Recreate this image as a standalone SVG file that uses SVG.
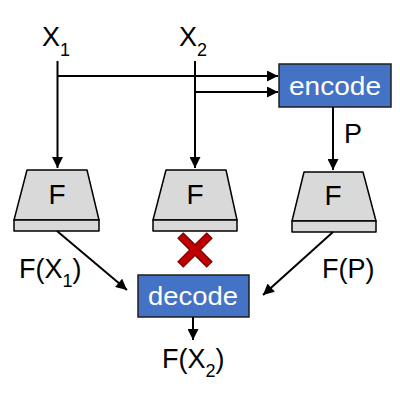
<svg xmlns="http://www.w3.org/2000/svg" width="400" height="400" viewBox="0 0 400 400">
<defs>
<marker id="ah" viewBox="0 0 10 10" refX="10" refY="5" markerWidth="6" markerHeight="5.5" orient="auto" markerUnits="strokeWidth">
<path d="M0,0 L10,5 L0,10 Z" fill="#000"/>
</marker>
<style>
text{font-family:"Liberation Sans",Arial,sans-serif;fill:#000}
.lbl{font-size:27px}
.sub{font-size:18px}
.box{fill:#4472C4;stroke:#1f1f1f;stroke-width:1.5}
.btxt{font-size:26px;fill:#fff;text-anchor:middle}
.trap{fill:#D9D9D9;stroke:#000;stroke-width:1.5;stroke-linejoin:round}
.ftxt{font-size:28px;text-anchor:middle}
.ln{stroke:#000;stroke-width:2;fill:none}
.arr{marker-end:url(#ah)}
</style>
</defs>
<rect width="400" height="400" fill="#fff"/>
<g id="X1"><text class="lbl" x="42" y="46">X<tspan class="sub" dy="10">1</tspan></text></g>
<g id="X2"><text class="lbl" x="179" y="46">X<tspan class="sub" dy="10">2</tspan></text></g>
<g id="encode"><rect class="box" x="279" y="64" width="112" height="43"/><text class="btxt" x="335" y="95" textLength="92" lengthAdjust="spacingAndGlyphs">encode</text></g>
<g id="F1"><path class="trap" d="M27,170 L87,170 L99,220 L14,220 Z"/><rect class="trap" x="14" y="220" width="85" height="11"/><text class="ftxt" x="57" y="204">F</text></g>
<g id="F2"><path class="trap" d="M166,170 L226,170 L237,220 L153,220 Z"/><rect class="trap" x="153" y="220" width="84" height="11"/><text class="ftxt" x="195" y="204">F</text></g>
<g id="F3"><path class="trap" d="M304,172 L363,172 L376,221 L292,221 Z"/><rect class="trap" x="292" y="221" width="84" height="11"/><text class="ftxt" x="333" y="205">F</text></g>
<g id="decode"><rect class="box" x="138" y="275" width="111" height="42"/><text class="btxt" x="193" y="305" textLength="90" lengthAdjust="spacingAndGlyphs">decode</text></g>
<g id="cross"><path d="M182,239 L186,235 L195,244 L204,235 L208,239 L199,248 L208,257 L204,261 L195,252 L186,261 L182,257 L191,248 Z" fill="#C00000" stroke="#7a0000" stroke-width="1" transform="translate(195,250) scale(1.3) translate(-195,-248)"/></g>
<g id="labels">
<text class="lbl" x="344" y="143">P</text>
<text class="lbl" x="19" y="278">F(X<tspan class="sub" dy="9">1</tspan><tspan dy="-9">)</tspan></text>
<text class="lbl" x="322" y="278">F(P)</text>
<text class="lbl" x="162" y="368">F(X<tspan class="sub" dy="9">2</tspan><tspan dy="-9">)</tspan></text>
</g>
<g id="connectors">
<path class="ln arr" d="M57.5,61 L57.5,168"/>
<path class="ln arr" d="M57.5,76 L278,76"/>
<path class="ln arr" d="M195,61 L195,168"/>
<path class="ln arr" d="M195,92 L278,92"/>
<path class="ln arr" d="M333,107 L333,170"/>
<path class="ln arr" d="M57,231 L127,290"/>
<path class="ln arr" d="M333,232 L263,295"/>
<path class="ln arr" d="M193,317 L193,340"/>
</g>
</svg>
